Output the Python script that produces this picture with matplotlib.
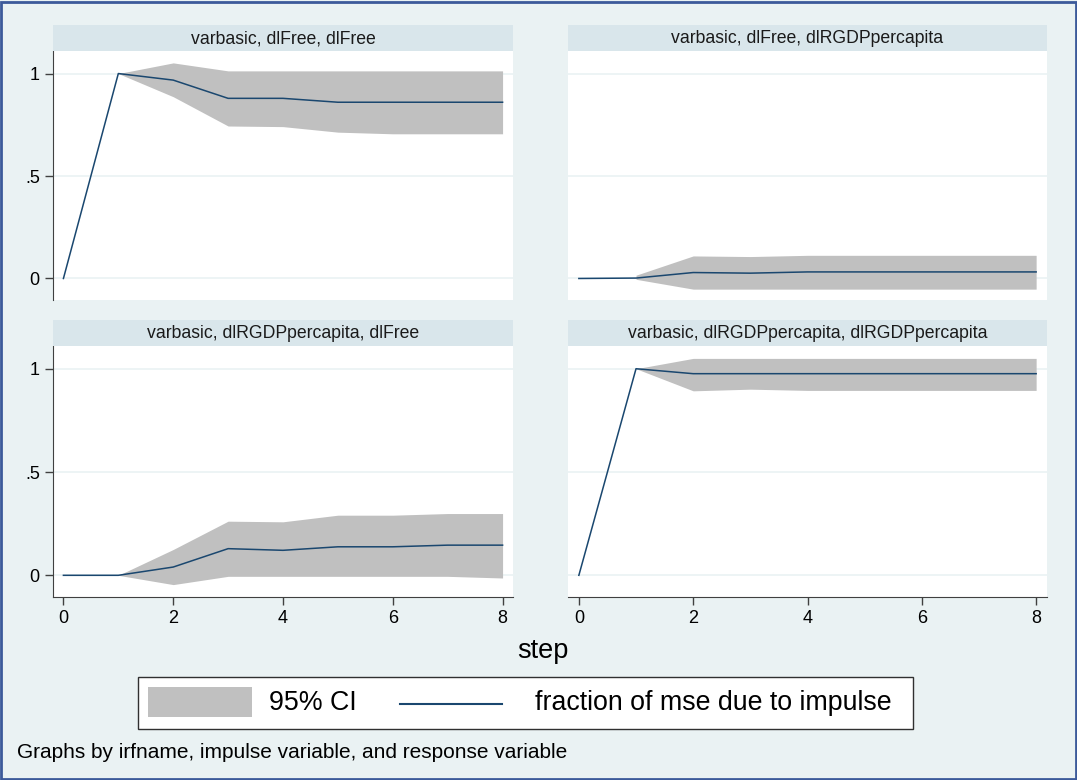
import numpy as np
import matplotlib
matplotlib.use('Agg')
import matplotlib.pyplot as plt
from matplotlib.patches import Rectangle
from matplotlib.lines import Line2D

plt.rcParams['font.family'] = ['Liberation Sans', 'DejaVu Sans']

steps = [0, 1, 2, 3, 4, 5, 6, 7, 8]
nan = np.nan

titles = ['varbasic, dlFree, dlFree',
          'varbasic, dlFree, dlRGDPpercapita',
          'varbasic, dlRGDPpercapita, dlFree',
          'varbasic, dlRGDPpercapita, dlRGDPpercapita']

# fraction of mse due to impulse
fevd_11 = [0, 1.0, 0.968, 0.879, 0.879, 0.860, 0.860, 0.860, 0.860]
fevd_12 = [0, 0.002, 0.029, 0.026, 0.032, 0.032, 0.032, 0.032, 0.032]
fevd_21 = [0, 0.0, 0.040, 0.129, 0.121, 0.138, 0.138, 0.146, 0.146]
fevd_22 = [0, 1.0, 0.976, 0.976, 0.976, 0.976, 0.976, 0.976, 0.976]

# 95% CI bounds
upper_11 = [nan, 1.0, 1.052, 1.013, 1.013, 1.013, 1.013, 1.013, 1.013]
lower_11 = [nan, 1.0, 0.887, 0.744, 0.741, 0.714, 0.706, 0.706, 0.706]
upper_12 = [nan, 0.016, 0.110, 0.107, 0.113, 0.113, 0.113, 0.113, 0.113]
lower_12 = [nan, -0.004, -0.052, -0.052, -0.052, -0.052, -0.052, -0.052, -0.052]
upper_21 = [nan, 0.0, 0.125, 0.262, 0.259, 0.291, 0.291, 0.299, 0.299]
lower_21 = [nan, 0.0, -0.045, -0.005, -0.005, -0.005, -0.005, -0.005, -0.013]
upper_22 = [nan, 1.0, 1.050, 1.050, 1.050, 1.050, 1.050, 1.050, 1.050]
lower_22 = [nan, 1.0, 0.893, 0.901, 0.895, 0.895, 0.895, 0.895, 0.895]

lines = [fevd_11, fevd_12, fevd_21, fevd_22]
uppers = [upper_11, upper_12, upper_21, upper_22]
lowers = [lower_11, lower_12, lower_21, lower_22]

W, H = 1077, 780
bg = '#eaf2f3'
strip_col = '#d9e6eb'
navy = '#1a476f'
ci_col = '#c0c0c0'

fig = plt.figure(figsize=(W / 100, H / 100), dpi=100, facecolor=bg)

# panel boxes in pixels: left, top, right, bottom
boxes = [(53, 51, 513, 300), (568, 51, 1047, 300),
         (53, 346, 513, 597), (568, 346, 1047, 597)]

for i, (l, t, r, b) in enumerate(boxes):
    ax = fig.add_axes([l / W, 1 - b / H, (r - l) / W, (b - t) / H])
    ax.set_facecolor('white')
    ax.fill_between(steps, lowers[i], uppers[i], color=ci_col, lw=0, zorder=2)
    ax.plot(steps, lines[i], color=navy, lw=1.1, zorder=3)
    ax.set_xlim(-0.19, 8.19)
    ax.set_ylim(-0.105, 1.11)
    ax.set_yticks([0, 0.5, 1])
    ax.set_xticks([0, 2, 4, 6, 8])
    ax.grid(axis='y', color=bg, lw=1.2, zorder=1)
    ax.grid(axis='x', visible=False)
    for s in ['top', 'right']:
        ax.spines[s].set_visible(False)
    ax.spines['left'].set_visible(i % 2 == 0)
    ax.spines['bottom'].set_visible(i >= 2)
    ax.spines['left'].set_color('#404040')
    ax.spines['bottom'].set_color('#404040')
    ax.tick_params(axis='both', colors='#404040', labelcolor='black',
                   labelsize=13, length=6, width=1)
    if i % 2 == 0:
        ax.set_yticklabels(['0', '.5', '1'])
    else:
        ax.tick_params(axis='y', left=False, labelleft=False)
    if i < 2:
        ax.tick_params(axis='x', bottom=False, labelbottom=False)

    # strip title
    st = t - 26
    fig.patches.append(Rectangle((l / W, 1 - t / H), (r - l) / W, 26 / H,
                                 transform=fig.transFigure, facecolor=strip_col,
                                 edgecolor='none'))
    fig.text((l + r) / 2 / W, 1 - (st + 13.5) / H, titles[i], ha='center', va='center',
             fontsize=12.7, color='#1a1a1a')

fig.text(543 / W, 1 - 651 / H, 'step', ha='center', va='center', fontsize=19.5)

# legend
fig.patches.append(Rectangle((138 / W, 1 - 729 / H), (913 - 138) / W, 52 / H,
                             transform=fig.transFigure, facecolor='white',
                             edgecolor='#303030', lw=1))
fig.patches.append(Rectangle((148 / W, 1 - 717 / H), 104 / W, 30 / H,
                             transform=fig.transFigure, facecolor=ci_col,
                             edgecolor='none'))
fig.text(269 / W, 1 - 703 / H, '95% CI', ha='left', va='center', fontsize=19.3)
fig.lines.append(Line2D([400 / W, 502 / W], [1 - 704 / H, 1 - 704 / H],
                        transform=fig.transFigure, color=navy, lw=1.5))
fig.text(535 / W, 1 - 703 / H, 'fraction of mse due to impulse', ha='left',
         va='center', fontsize=19.3)

fig.text(17 / W, 1 - 752 / H, 'Graphs by irfname, impulse variable, and response variable',
         ha='left', va='center', fontsize=15)

# outer frame
fig.patches.append(Rectangle((0.001, 0.001), 0.998, 0.997, transform=fig.transFigure,
                             facecolor='none', edgecolor='#3c5a9a', lw=2))

fig.savefig('out.png', dpi=100, facecolor=bg)
